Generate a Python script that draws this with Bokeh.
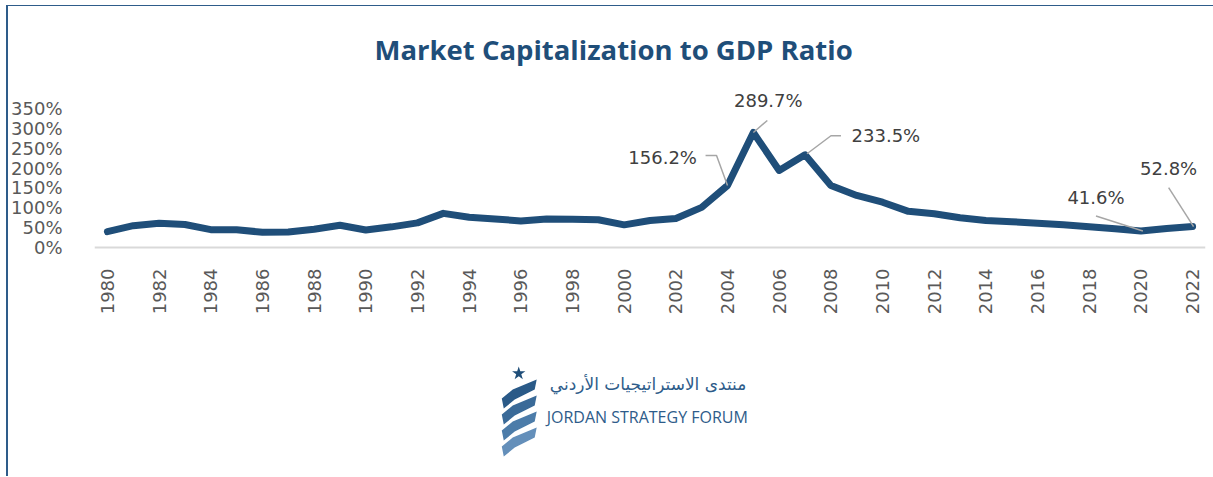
import math
from bokeh.plotting import figure
from bokeh.models import Range1d, FixedTicker, PrintfTickFormatter
from bokeh.layouts import column
from bokeh.embed import file_html
from bokeh.resources import INLINE
from bokeh.core.properties import value

# ---------------- data ----------------
years = list(range(1980, 2023))
ratio = [40, 55, 61, 58, 45, 44.5, 38.5, 39, 46, 56,
         44, 52, 62, 86, 76, 72, 67, 72, 71, 70,
         57, 68, 73, 101, 156.2, 289.7, 194, 233.5, 156, 131,
         114, 91, 85, 75, 68, 65, 61, 57, 52, 47,
         41.6, 48, 52.8]
label_years = [2004, 2005, 2007, 2020, 2022]
label_texts = ["156.2%", "289.7%", "233.5%", "41.6%", "52.8%"]
y_ticks = [0, 50, 100, 150, 200, 250, 300, 350]
x_ticks = list(range(1980, 2023, 2))
title_text = "Market Capitalization to GDP Ratio"
logo_ar = "منتدى الاستراتيجيات الأردني"
logo_en = "JORDAN STRATEGY FORUM"

# ---------------- styling / layout (canvas px) ----------------
BLUE = "#1F4E79"
GREY_TXT = "#595959"
LBL_TXT = "#404040"
W, H1, H2 = 1205, 330, 140
ML, MR, MB = 84, 8, 87
FRAME_H = H1 - MB            # frame from canvas y 0 to FRAME_H
ZERO_PX, TOP_TICK_PX = 241, 102   # canvas y of 0% and 350%
X0, X1 = 1979.5, 2022.5
frame_w = W - ML - MR
ppx = frame_w / (X1 - X0)                      # px per year
ppy = (ZERO_PX - TOP_TICK_PX) / 350.0          # px per percent
Y0 = -(FRAME_H - ZERO_PX) / ppy
Y1 = Y0 + FRAME_H / ppy

# label offsets in screen px (dx right, dy down): text centre, leader path
text_off = [(-65, -28), (15, -32), (81, -19), (-45, -33), (-24, -58)]
leader_off = [[(-22, -30), (-11, -30), (0, 0)],
              [(14, -12), (0, 0)],
              [(36, -19), (26, -19), (2, -1)],
              [(-45, -15), (2, 0)],
              [(-24, -39), (1, 0)]]

p = figure(width=W, height=H1, x_range=Range1d(X0, X1), y_range=Range1d(Y0, Y1),
           output_backend="svg", toolbar_location=None,
           min_border_left=ML, min_border_right=MR, min_border_top=0, min_border_bottom=MB)
p.outline_line_color = None
p.background_fill_color = "white"
p.border_fill_color = "white"
p.xgrid.visible = False
p.ygrid.ticker = FixedTicker(ticks=[0])
p.ygrid.grid_line_color = "#D9D9D9"
p.ygrid.grid_line_width = 2

yax = p.yaxis[0]
yax.ticker = FixedTicker(ticks=y_ticks)
yax.formatter = PrintfTickFormatter(format="%d%%")
yax.axis_line_color = None
yax.major_tick_line_color = None
yax.minor_tick_line_color = None
yax.major_label_standoff = 26
yax.major_label_text_font = "DejaVu Sans"
yax.major_label_text_font_size = "18px"
yax.major_label_text_color = GREY_TXT

xax = p.xaxis[0]
xax.ticker = FixedTicker(ticks=x_ticks)
xax.axis_line_color = None
xax.major_tick_line_color = None
xax.minor_tick_line_color = None
xax.major_label_orientation = math.pi / 2
xax.major_label_standoff = 13
xax.major_label_text_font = "DejaVu Sans"
xax.major_label_text_font_size = "18px"
xax.major_label_text_color = GREY_TXT

p.line(years, ratio, line_color=BLUE, line_width=7, line_join="round", line_cap="round")

# leaders and labels
lx, ly, tx, ty = [], [], [], []
for yr, to, lo in zip(label_years, text_off, leader_off):
    v = ratio[years.index(yr)]
    lx.append([yr + dx / ppx for dx, dy in lo])
    ly.append([v - dy / ppy for dx, dy in lo])
    tx.append(yr + to[0] / ppx)
    ty.append(v - to[1] / ppy)
p.multi_line(lx, ly, line_color="#A6A6A6", line_width=1.5)
p.text(tx, ty, text=label_texts, text_align="center", text_baseline="middle",
       text_font=value("DejaVu Sans"), text_font_size="18px", text_color=LBL_TXT)

# title (inside the frame, above the data)
title_px = (604, 43)
p.text([X0 + (title_px[0] - ML) / ppx], [Y0 + (FRAME_H - title_px[1]) / ppy],
       text=[title_text], text_align="center", text_baseline="middle",
       text_font=value("Open Sans"), text_font_style="bold",
       text_font_size="27.5px", text_color=BLUE)

# ---------------- logo figure (ranges in page pixels) ----------------
PX0, PY0 = 8, 6  # page position of the layout's content
lf = figure(width=W, height=H2,
            x_range=Range1d(PX0 + ML, PX0 + W - MR),
            y_range=Range1d(PY0 + H1 + H2, PY0 + H1),
            x_axis_type=None, y_axis_type=None,
            output_backend="svg", toolbar_location=None,
            min_border_left=ML, min_border_right=MR, min_border_top=0, min_border_bottom=0)
lf.grid.visible = False
lf.outline_line_color = None
lf.background_fill_color = "white"
lf.border_fill_color = "white"

band_cols = ["#2A5A88", "#3A6A98", "#4C7CA9", "#648FBA"]
bx, by = [], []
for k in range(4):
    d = 16 * k
    bx.append([500, 511, 535, 533, 513, 502])
    by.append([398 + d, 389 + d, 379 + d, 389 + d, 399 + d, 408 + d])
lf.patches(bx, by, fill_color=band_cols, line_color=None)
lf.scatter([517], [373], marker="star", size=14, fill_color=BLUE, line_color=None)
lf.text([745], [383], text=[logo_ar], text_align="right", text_baseline="middle",
        text_font=value("DejaVu Sans"), text_font_size="17px", text_color="#2E5C8A")
lf.text([545], [416], text=[logo_en], text_align="left", text_baseline="middle",
        text_font=value("Open Sans"), text_font_size="16px", text_color="#2E5C8A")

lay = column(p, lf, spacing=0,
             styles={"margin-left": "6px", "margin-top": "5px",
                     "border-left": "2px solid #2E5C8A", "border-top": "1px solid #2E5C8A"})
open("out.html", "w").write(file_html(lay, INLINE))
